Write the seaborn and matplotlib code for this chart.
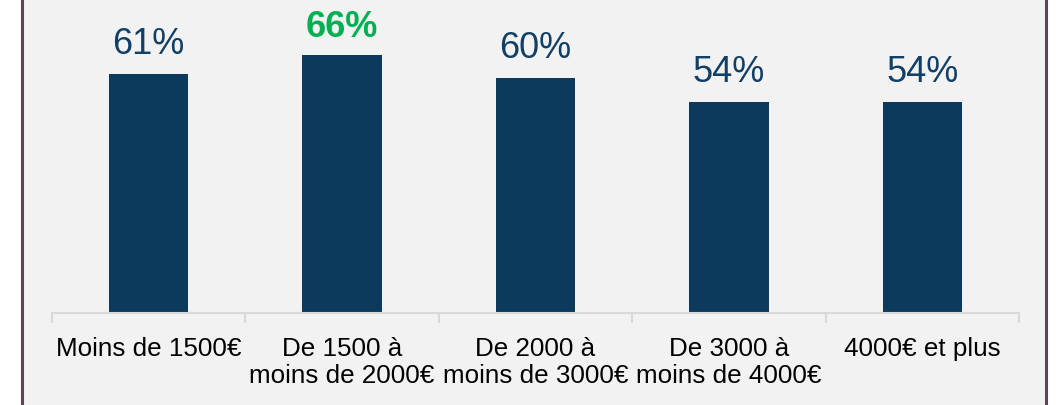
import matplotlib
matplotlib.use("Agg")
import matplotlib.pyplot as plt
import seaborn as sns
import pandas as pd
from matplotlib.patches import Rectangle

categories = ["Moins de 1500€", "De 1500 à\nmoins de 2000€", "De 2000 à\nmoins de 3000€",
              "De 3000 à\nmoins de 4000€", "4000€ et plus"]
values = [61, 66, 60, 54, 54]
highlight = "De 1500 à\nmoins de 2000€"

BAR = "#0b3a5c"
LABEL = "#123f66"
GREEN = "#00b050"
BG = "#f2f2f2"

sns.set_theme(style="white")
plt.rcParams["font.family"] = ["Liberation Sans", "DejaVu Sans"]

df = pd.DataFrame({"cat": categories, "val": values})

fig = plt.figure(figsize=(10.58, 4.05), dpi=100)
fig.patch.set_facecolor("white")
# panel background with left/right border
fig.patches.append(Rectangle((22 / 1058, -0.1), (1046 - 22) / 1058, 1.2,
                             transform=fig.transFigure, facecolor=BG,
                             edgecolor="#5f4452", linewidth=2.2, zorder=-5))

ax = fig.add_axes([52 / 1058, (405 - 313) / 405, (1019 - 52) / 1058, 313 / 405])
ax.set_zorder(2)
ax.set_facecolor("none")
sns.barplot(data=df, x="cat", y="val", color=BAR, saturation=1, width=0.41,
            linewidth=0, ax=ax)
ax.set_ylim(0, 80)
ax.set_xlim(-0.5, len(categories) - 0.5)

for i, (c, v) in enumerate(zip(categories, values)):
    if c == highlight:
        ax.annotate(f"{v}%", (i, v), xytext=(0, 13), textcoords="offset points",
                    ha="center", va="baseline", fontsize=26, color=GREEN, fontweight="bold")
    else:
        ax.annotate(f"{v}%", (i, v), xytext=(0, 14.5), textcoords="offset points",
                    ha="center", va="baseline", fontsize=26, color=LABEL)

ax.set_xlabel("")
ax.set_ylabel("")
ax.set_yticks([])
for s in ["top", "left", "right"]:
    ax.spines[s].set_visible(False)
ax.spines["bottom"].set_color("#d9d9d9")
ax.spines["bottom"].set_linewidth(1.5)

# ticks between categories
ax.set_xticks([x - 0.5 for x in range(len(categories) + 1)], minor=True)
ax.tick_params(axis="x", which="minor", length=7, width=1.5, color="#d9d9d9", bottom=True)
ax.tick_params(axis="x", which="major", length=0, pad=17, labelsize=18.7, labelcolor="black")
for t in ax.get_xticklabels():
    t.set_linespacing(1.2)

fig.savefig("out.png", dpi=100)
